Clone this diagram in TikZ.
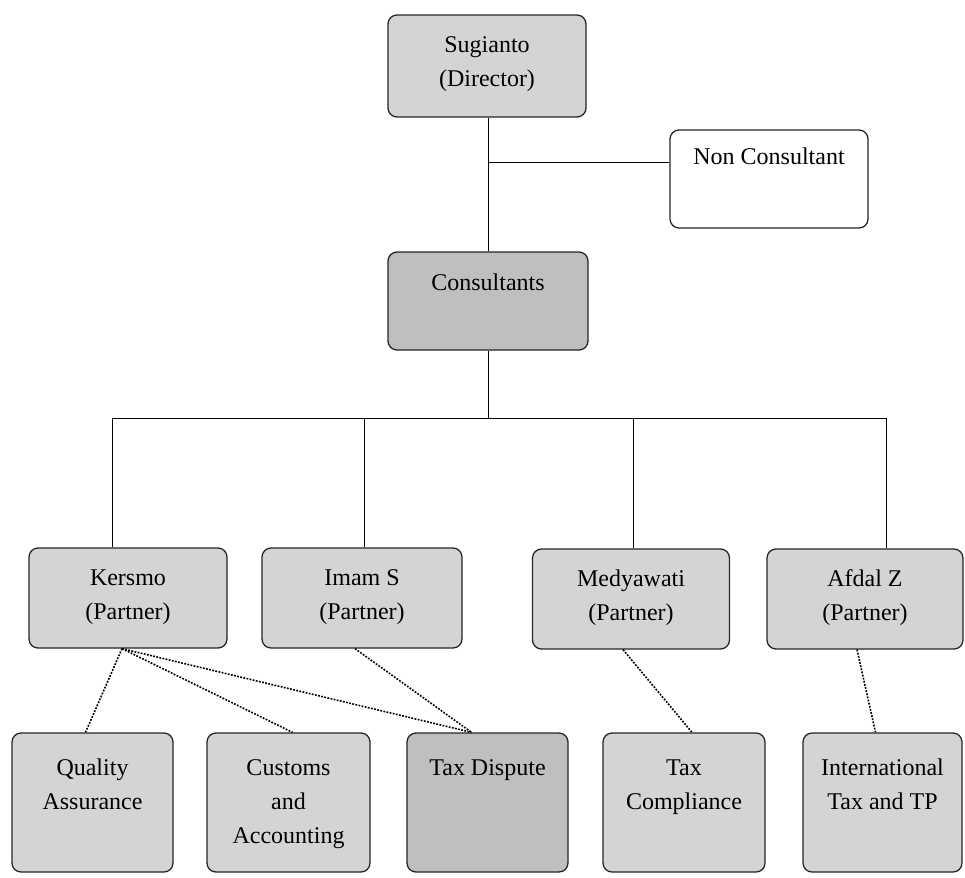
\documentclass[tikz,border=0pt]{standalone}
\usepackage{fontspec}
\setmainfont{Liberation Serif}
\definecolor{boxgray}{gray}{0.83}
\definecolor{deepgray}{gray}{0.75}
\tikzset{
  unit/.style={draw=black!85, line width=1.3pt, rounded corners=9pt, fill=boxgray,
    align=center, inner ysep=0pt, inner xsep=2pt, text height=37pt,
    font=\fontsize{24}{34}\selectfont},
  link/.style={line width=1pt},
  duty/.style={line width=1.6pt, dash pattern=on 1.8pt off 1.4pt}
}
\begin{document}
\begin{tikzpicture}[x=1pt, y=-1pt]
  \useasboundingbox (0,0) rectangle (965,877);

  % top
  \node[unit, minimum width=198pt, text height=72pt, text depth=30pt] (sug) at (487,66) {Sugianto\\(Director)};
  \node[unit, fill=white, minimum width=198pt, text height=35pt, text depth=63pt] (nonc) at (769,179) {Non Consultant};
  \node[unit, fill=deepgray, minimum width=200pt, text height=38pt, text depth=60pt] (cons) at (488,301) {Consultants};

  % partners
  \node[unit, minimum width=198pt, text height=71pt, text depth=29pt] (kers) at (128,598) {Kersmo\\(Partner)};
  \node[unit, minimum width=200pt, text height=71pt, text depth=29pt] (imam) at (362,598) {Imam S\\(Partner)};
  \node[unit, minimum width=197pt, text height=71pt, text depth=29pt] (medy) at (631,599) {Medyawati\\(Partner)};
  \node[unit, minimum width=196pt, text height=71pt, text depth=29pt] (afdal) at (865,599) {Afdal Z\\(Partner)};

  % divisions
  \node[unit, minimum width=161pt, text height=76pt, text depth=63pt] (qa) at (92.5,802.5) {Quality\\Assurance};
  \node[unit, minimum width=163pt, text height=110pt, text depth=29pt] (cust) at (288.5,802.5) {Customs\\and\\Accounting};
  \node[unit, fill=deepgray, minimum width=161pt, text height=42pt, text depth=97pt] (disp) at (487.5,802.5) {Tax Dispute};
  \node[unit, minimum width=162pt, text height=76pt, text depth=63pt] (comp) at (684,802.5) {Tax\\Compliance};
  \node[unit, minimum width=159pt, text height=76pt, text depth=63pt] (intl) at (882.5,802.5) {International\\Tax and TP};

  % solid lines
  \coordinate (side) at (488,163);
  \coordinate (bar) at (488,418);
  \draw[link] (sug.south -| cons.north) -- (cons.north);
  \draw[link] (side) -- (side -| nonc.west);
  \draw[link] (cons.south) -- (bar);
  \draw[link] (112,418) -- (886,418);
  \draw[link] (112,418) -- (kers.north -| 112,0);
  \draw[link] (364,418) -- (imam.north -| 364,0);
  \draw[link] (633,418) -- (medy.north -| 633,0);
  \draw[link] (886,418) -- (afdal.north -| 886,0);

  % dotted lines
  \coordinate (kfoot) at ([xshift=-6pt]kers.south);
  \coordinate (dtop) at ([xshift=-16pt]disp.north);
  \draw[duty] (kfoot) -- ([xshift=-7pt]qa.north);
  \draw[duty] (kfoot) -- ([xshift=4pt]cust.north);
  \draw[duty] (kfoot) -- (dtop);
  \draw[duty] ([xshift=-7pt]imam.south) -- (dtop);
  \draw[duty] ([xshift=-8pt]medy.south) -- ([xshift=8pt]comp.north);
  \draw[duty] ([xshift=-8pt]afdal.south) -- ([xshift=-7pt]intl.north);
\end{tikzpicture}
\end{document}
